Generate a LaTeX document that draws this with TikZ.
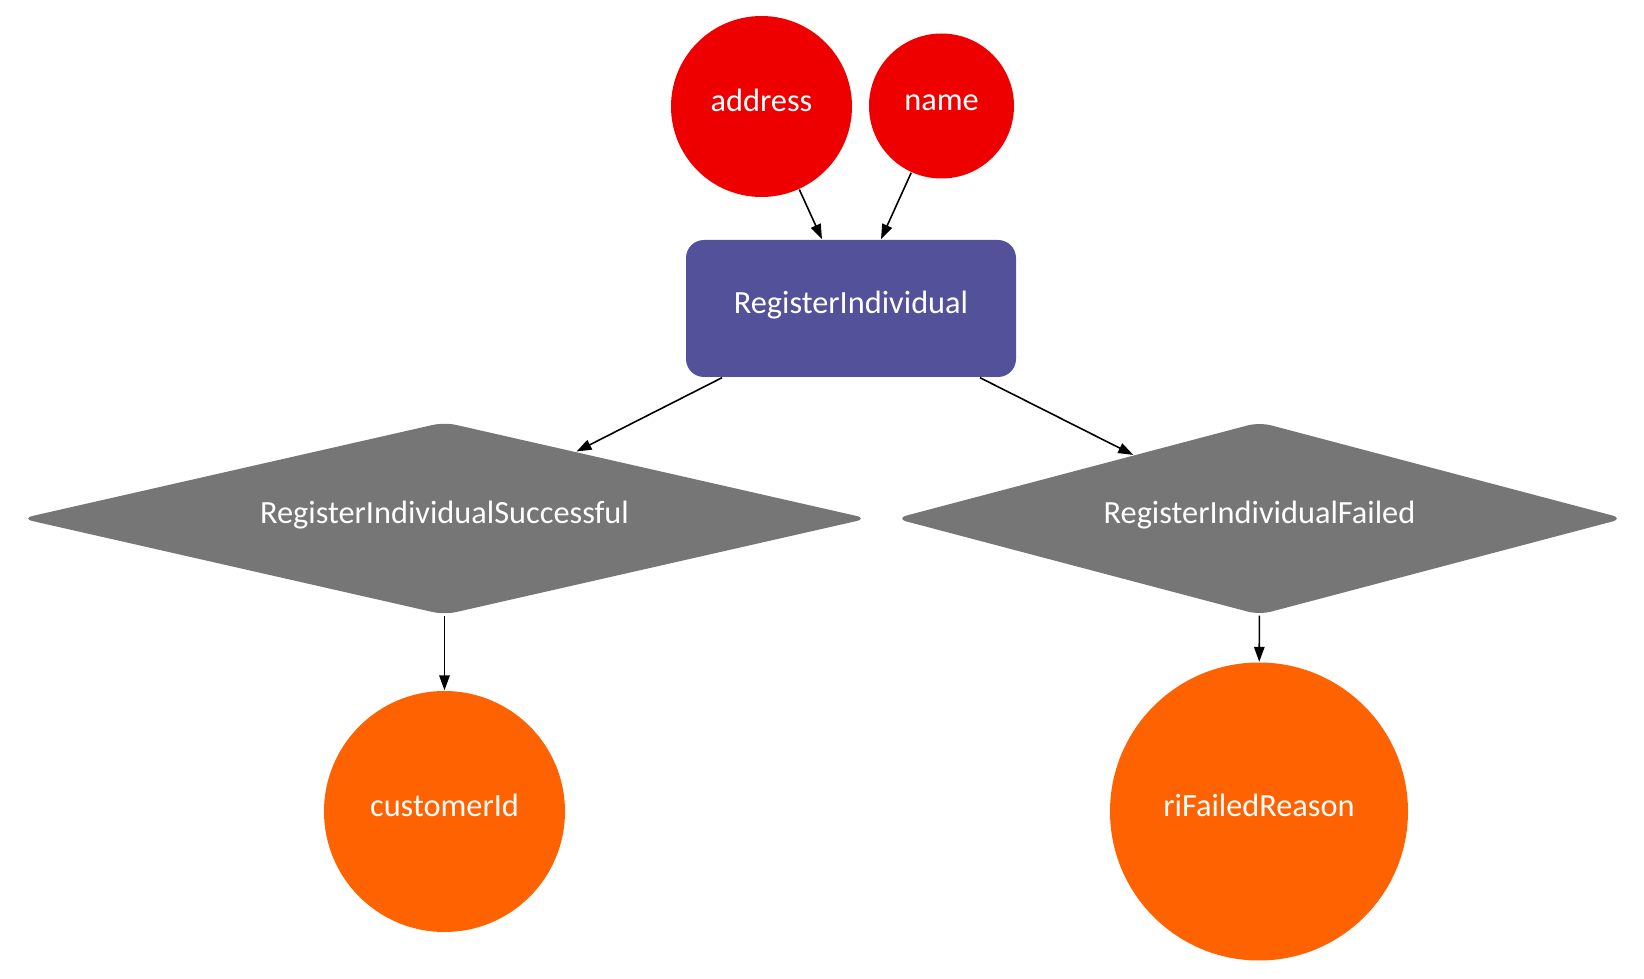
\documentclass[tikz,border=0pt]{standalone}
\usepackage{fontspec}
\setmainfont{Carlito}
\usepackage{xcolor}
\usetikzlibrary{positioning, shapes.geometric, arrows.meta, calc}

\definecolor{inputred}{HTML}{EE0000}
\definecolor{cmdblue}{HTML}{525199}
\definecolor{eventgrey}{HTML}{767676}
\definecolor{outorange}{HTML}{FF6200}

\begin{document}
\begin{tikzpicture}[
        font=\fontsize{9.2}{11}\selectfont,
        every node/.style={text=white, inner sep=0pt, text height=0.2cm, text depth=0.1cm},
        field/.style={circle, fill=inputred, minimum size=#1},
        result/.style={circle, fill=outorange, minimum size=#1},
        command/.style={rectangle, rounded corners=0.18cm, fill=cmdblue,
          minimum width=3.30cm, minimum height=1.37cm},
        event/.style={diamond, rounded corners=0.12cm, fill=eventgrey,
          shape aspect=4, minimum width=#1, minimum height=1.93cm},
        edge/.style={draw=black, line width=0.45pt,
          -{Triangle[length=1.5mm, width=1.05mm]}}]
        \useasboundingbox (0,0) rectangle (16.44,-9.79);
        % inputs
        \node[field=1.81cm] (address) at (7.615,-1.065) {address};
        \node[field=1.45cm] (name) at (9.415,-1.06) {name};
        % command
        \node[command] (register) at (8.51,-3.085) {RegisterIndividual};
        % events
        \node[event=8.47cm] (success) at (4.445,-5.185) {RegisterIndividualSuccessful};
        \node[event=7.29cm] (failed) at (12.595,-5.185) {RegisterIndividualFailed};
        % outputs
        \node[result=2.41cm] (customer) at (4.445,-8.115) {customerId};
        \node[result=2.98cm] (reason) at (12.59,-8.115) {riFailedReason};

        \draw[edge] (address) -- ([xshift=-0.29cm]register.north);
        \draw[edge] (name) -- ([xshift=0.30cm]register.north);
        \draw[edge] ([xshift=-1.29cm]register.south) -- (success);
        \draw[edge] ([xshift=1.29cm]register.south) -- (failed);
        \draw[edge] (success) -- (customer);
        \draw[edge] (failed) -- (reason);
      \end{tikzpicture}
\end{document}
